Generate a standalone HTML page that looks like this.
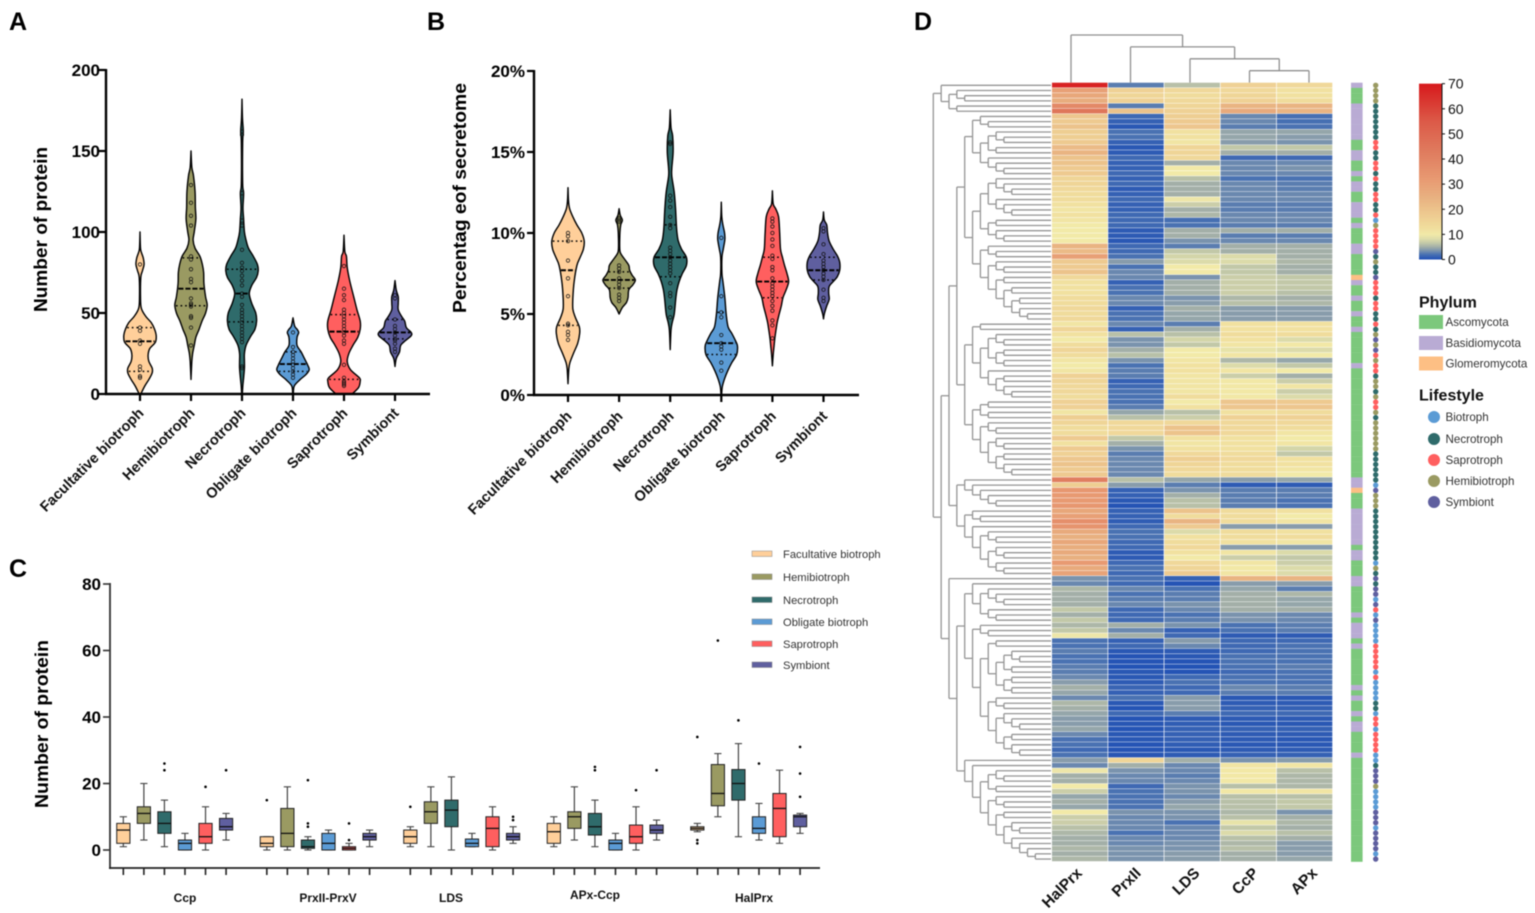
<!DOCTYPE html>
<html lang="en">
<head>
<meta charset="utf-8">
<title>Peroxidase protein distribution by fungal lifestyle</title>
<style>
html,body{margin:0;padding:0;background:#fff;}
svg{display:block;filter:blur(.4px);font-family:"Liberation Sans",Arial,sans-serif;}
.letter{font-size:25px;font-weight:700;fill:#000;}
.title{font-size:18px;font-weight:700;fill:#000;}
.tick{font-size:17px;font-weight:700;fill:#000;}
.cat{font-size:14.6px;font-weight:700;fill:#111;}
.grp{font-size:12px;font-weight:700;fill:#111;}
.leg{font-size:11.2px;fill:#333;}
.heatlab{font-size:15.5px;font-weight:700;fill:#111;}
.cbar{font-size:14px;fill:#111;}
.dlegtitle{font-size:16px;font-weight:700;fill:#111;}
.dleg{font-size:11.6px;font-weight:400;fill:#333;}
</style>
</head>
<body>
<svg id="figure" xmlns="http://www.w3.org/2000/svg" width="1535" height="913" viewBox="0 0 1535 913">
  <defs><linearGradient id="cbarGrad" x1="0" y1="1" x2="0" y2="0"></linearGradient></defs>
  <rect x="0" y="0" width="1535" height="913" fill="#fff"/>

  <text class="letter" x="9" y="30">A</text>
  <text class="letter" x="427" y="30">B</text>
  <text class="letter" x="9" y="577">C</text>
  <text class="letter" x="914" y="30">D</text>

  <g id="panelA">
    <text class="title" transform="translate(47 229.5) rotate(-90)" text-anchor="middle" textLength="165" lengthAdjust="spacingAndGlyphs">Number of protein</text>
  </g>
  <g id="panelB">
    <text class="title" transform="translate(466 198) rotate(-90)" text-anchor="middle" textLength="230" lengthAdjust="spacingAndGlyphs">Percentag eof secretome</text>
  </g>
  <g id="panelC">
    <text class="title" transform="translate(48 724) rotate(-90)" text-anchor="middle" textLength="168" lengthAdjust="spacingAndGlyphs">Number of protein</text>
    <text class="grp" x="185" y="902" text-anchor="middle">Ccp</text>
    <text class="grp" x="328" y="902" text-anchor="middle">PrxII-PrxV</text>
    <text class="grp" x="451" y="902" text-anchor="middle">LDS</text>
    <text class="grp" x="595" y="899" text-anchor="middle">APx-Ccp</text>
    <text class="grp" x="754" y="902" text-anchor="middle">HalPrx</text>
  </g>
  <g id="panelD"></g>
</svg>

<script>
/* ---------- shared categories ---------- */
const categories = ["Facultative biotroph", "Hemibiotroph", "Necrotroph", "Obligate biotroph", "Saprotroph", "Symbiont"];
const categoryColors = ["#FFCF9A", "#9A9A62", "#2F6B6B", "#5B9BD5", "#FF5F5F", "#5F5F9F"];

/* ---------- panel A data ---------- */
const panelATicks = [0, 50, 100, 150, 200];
const panelAProfileValues = [
  [100, 90, 87, 84, 80, 76, 72, 60, 53, 48, 44, 40, 36, 32, 28, 24, 20, 16, 13, 9, 5, 0],
  [150, 140, 135, 125, 115, 108, 100, 95, 90, 85, 80, 75, 68, 60, 55, 50, 45, 40, 35, 30, 25, 20, 9],
  [182, 170, 162, 155, 130, 124, 115, 108, 100, 95, 90, 85, 80, 76, 72, 67, 62, 56, 50, 45, 40, 35, 30, 25, 20, 16, 10, 5, 0],
  [47, 42, 40, 38, 35, 30, 26, 22, 18, 15, 12, 9, 5, 0],
  [98, 88, 85, 78, 70, 60, 52, 45, 40, 35, 30, 25, 20, 15, 10, 8, 4, 0],
  [70, 64, 60, 56, 52, 48, 45, 41, 38, 36, 33, 30, 26, 22, 17]
];
const panelADensity = [
  [0, .03, .1, .2, .25, .15, .05, .03, .08, .35, .7, .9, 1, .95, .6, .5, .55, .75, .75, .55, .3, .05],
  [0, .05, .15, .25, .27, .3, .2, .13, .25, .55, .7, .78, .8, .9, 1, .9, .68, .5, .3, .2, .1, .05, 0],
  [0, .03, .08, .04, .04, .1, .06, .1, .15, .25, .4, .7, .95, 1, .9, .6, .45, .6, .85, .9, .8, .5, .25, .15, .15, .15, .1, .05, .02],
  [0, .1, .25, .35, .25, .25, .5, .7, .9, 1, .8, .45, .08, .02],
  [0, .05, .15, .2, .35, .6, .8, 1, 1, .85, .55, .3, .2, .4, .95, 1, .9, .5],
  [0, .08, .2, .2, .2, .4, .6, .7, 1, 1, .65, .35, .28, .08, 0]
];
const panelAPoints = [
  [80, 41, 39, 33, 31, 17, 15, 11, 10],
  [129, 118, 110, 104, 85, 83, 77, 71, 69, 59, 56, 55, 54, 48, 47, 41, 30],
  [162, 160, 124, 107, 104, 89, 81, 78, 76, 73, 70, 67, 62, 60, 55, 52, 50, 48, 46, 44, 42, 40, 38, 36, 34, 32, 17, 16],
  [38, 29, 26, 24, 22, 20, 18, 16, 14, 12, 10],
  [79, 65, 61, 58, 52, 50, 48, 46, 44, 42, 40, 38, 36, 33, 31, 18, 10, 8, 7, 6, 5],
  [61, 59, 46, 42, 40, 38, 36, 34, 33, 31, 28, 26]
];
const panelAQ1 = [14, 54.5, 44.5, 14, 9, 34];
const panelAMedian = [32.5, 65, 62, 18.5, 38.5, 38];
const panelAQ3 = [41, 84, 77, 26, 49, 46];

/* ---------- panel B data ---------- */
const panelBTicks = [0, 5, 10, 15, 20];
const panelBProfileValues = [
  [12.8, 12, 11.5, 11, 10.5, 10, 9.5, 9, 8.5, 8, 7, 6, 5.3, 4.8, 4.2, 3.8, 3.2, 2.6, 2, 1.6, .7],
  [11.5, 11.1, 10.8, 10.5, 10, 9, 8.7, 8.3, 8, 7.7, 7.4, 7.1, 6.8, 6.5, 6, 5.7, 5.4, 5],
  [17.6, 16.5, 16, 15, 14, 13.5, 12.5, 11.5, 10.5, 10, 9.5, 9, 8.5, 8, 7.5, 7, 6.5, 6, 5, 4.5, 4, 2.8],
  [11.9, 11, 10.5, 10, 9.6, 9, 8.5, 7.5, 7, 6, 5, 4.2, 3.8, 3.3, 3, 2.5, 2, 1.5, 1, .5, 0],
  [12.6, 11.8, 11.5, 11, 10, 9, 8.5, 8, 7.5, 7, 6.5, 6, 5.5, 5, 4.5, 4, 3.5, 3, 2.5, 1.8],
  [11.3, 10.8, 10.5, 10, 9.5, 9, 8.6, 8.2, 7.7, 7.3, 7, 6.7, 6.3, 5.9, 5.5, 5, 4.7]
];
const panelBDensity = [
  [0, .03, .1, .3, .55, .85, 1, .95, .75, .55, .38, .3, .3, .45, .7, .72, .6, .35, .12, .05, 0],
  [0, .07, .2, .1, .05, .04, .12, .4, .6, .65, .8, 1, .85, .6, .55, .45, .2, 0],
  [0, .05, .15, .18, .1, .1, .25, .33, .38, .42, .5, .7, 1, 1, .75, .55, .42, .35, .25, .13, .05, 0],
  [0, .03, .1, .2, .22, .12, .04, .04, .1, .22, .3, .42, .65, .9, 1, .95, .65, .4, .2, .06, .02],
  [0, .05, .2, .38, .45, .5, .62, .75, .9, 1, .85, .65, .55, .42, .3, .22, .15, .1, .05, 0],
  [0, .05, .2, .25, .35, .6, .85, 1, 1, .85, .6, .35, .32, .35, .2, .05, 0]
];
const panelBPoints = [
  [10, 9.8, 9.5, 8.3, 7.2, 6.1, 4.4, 4.3, 3.9, 3.7, 3.4],
  [10.9, 10.8, 10.7, 8, 7.8, 7.6, 7.2, 7, 6.8, 6.6, 6.2, 6, 5.8],
  [15.6, 15.5, 12.3, 12, 11.6, 11, 10.5, 10.3, 9.1, 8.9, 8.7, 8.5, 8.3, 8.1, 7.9, 7.7, 7.5, 6.9, 6.3, 6.1, 5.4, 4.8],
  [9.7, 6.1, 5.1, 4.8, 3.7, 3.2, 3, 2.8, 2, 1.5],
  [10.9, 10.7, 10.4, 10, 9.6, 9.2, 8.6, 8.4, 7.9, 7.7, 7.2, 6.9, 6.7, 6.5, 6.3, 6.1, 5.8, 5.5, 5.2, 4.6, 4.3, 3.5],
  [10.3, 10.1, 9.3, 8.7, 8.3, 8.1, 7.9, 7.7, 7.5, 7.3, 7.1, 6.5, 6, 5.8]
];
const panelBQ1 = [4.3, 6.6, 7.3, 2.5, 6, 7.1];
const panelBMedian = [7.7, 7.1, 8.5, 3.2, 7, 7.7];
const panelBQ3 = [9.5, 7.6, 10.5, 5.1, 8.5, 8.5];

/* ---------- panel C data: [group][category] ---------- */
const boxGroups = ["Ccp", "PrxII-PrxV", "LDS", "APx-Ccp", "HalPrx"];
const panelCTicks = [0, 20, 40, 60, 80];
const boxLow = [
  [1, 3, 1, 0, 0, 3],
  [0, 0, 0, 0, 0, 1],
  [1, 1, 0, 1, 0, 2],
  [1, 3, 1, 0, 0, 3],
  [5.5, 10, 4, 3, 2, 5]
];
const boxQ1 = [
  [2, 8, 5, 0, 2, 6],
  [1, 1, .5, 0, 0, 3],
  [2, 8, 7, 1, 1, 3],
  [2, 6.5, 4.5, 0, 2, 5],
  [6, 13.3, 15, 5, 4, 7]
];
const boxMedian = [
  [6, 11, 8, 2, 4, 7],
  [2, 5, 1, 2, .5, 4],
  [4, 11.5, 12, 2, 6.5, 4],
  [5.5, 10, 7, 2, 4, 6],
  [6.5, 17, 20, 6.5, 12.5, 10]
];
const boxQ3 = [
  [8, 13, 11.5, 3, 8, 9.5],
  [4, 12.5, 3, 5, 1, 5],
  [6, 14.5, 15, 3.3, 10, 5],
  [8, 11.5, 11, 3, 7.5, 7.5],
  [7, 25.7, 24.2, 10, 17, 10.5]
];
const boxHigh = [
  [10, 20, 15, 5, 13, 11],
  [4, 19, 4, 6, 2, 6],
  [7, 19, 22, 5, 13, 7],
  [10, 19, 15, 5, 13, 9],
  [8, 29, 32, 14, 24, 11]
];
const boxOutliers = [
  [[], [], [24, 26], [], [19], [24]],
  [[15], [], [7, 8, 21], [], [3, 8], []],
  [[13], [], [], [], [], [9, 10]],
  [[], [], [24, 25], [], [18], [24]],
  [[2, 3, 34], [63], [39], [26], [], [16, 23, 31]]
];

/* ---------- panel D data ---------- */
const heatColumns = ["HalPrx", "PrxII", "LDS", "CcP", "APx"];
const heatValues = [
  [68,2.5,6,16,14],[30,16,14,14,12],[28,15,13,15,12],[26,16,14,16,13],[38,2.5,15,24,24],
  [45,20,16,27,24],[19,1.5,17,3,1.8],[18,1,18,3,1.8],[20,.5,19,2.5,2],[17,2,12,4.5,4.5],
  [17,2,12,4.5,4],[18,1,11,4,3.5],[22,.5,15,6.5,6.5],[24,.7,15,5,5],[20,1.5,14,1.5,1.5],
  [20,1,5,3,3],[18,1,10,3,3.5],[18,1.5,10,3,3],[15,1,6,2,2],[15,1.5,5,3,2.5],
  [14,.7,5,3,2.5],[13,1,5,3,3],[13,1.5,9.5,3,3],[12,1,7,2.5,2.5],[11,1,5,2.5,2.5],
  [12,1.5,5.5,3,3],[11,1.5,1.8,3,3],[10,1.5,2,2.5,2.5],[10,.7,5,5,5],[10,.7,5,2.5,2.5],
  [10,.5,3.5,3,3],[24,1.5,2.5,5,5],[22,1.5,6.5,5,5],[30,2,7.5,8,5],[18,4,8,8,5.5],
  [18,2,10,6.5,5],[20,3,10,6.5,5],[14,3,3.5,7,6.5],[12,1,5,7,6.5],[12,2,5,7,6.5],
  [12,2,5,7,6],[13,3,3.5,5.5,5],[13,3,4,6,5.5],[14,1,5,4,4],[13,2,4.5,4,4],
  [14,2,4.5,4,4],[11,3,2.5,12,12],[15,1,5,12,12],[12,6,6,13,13],[10,3.5,7.5,12,8],
  [13,3.5,6.5,11,10.5],[15,5,10,9,8],[13,6,10,11,10],[11,3.5,11,5.5,4.5],[10,2,12,8,6.5],
  [11,2.5,12,11,10],[16,2.5,11,7,5],[15,1,11,10.5,7],[14,1.5,11,10.5,11],[14,2,11,10.5,7],
  [13,2,13,10.5,8],[16,2,10,19,18],[16,2.5,12,19,19],[11,4.5,6,12,13],[17,6,7,16,16],
  [15,14,14,14,14],[13,14,20,14,13],[13,14,20,14,11],[18,6.5,12,12,10],[12,5,11,12,11],
  [18,3.5,12,12,7.5],[16,2.5,14,13,6.5],[19,3,17,14,12],[20,3,15,13,12],[18,3,14,13,11],
  [18,3,13,13,10],[42,6,4.5,4,4.5],[17,4,2.5,.7,.7],[33,1,3.5,2.5,2.5],[32,1,5,2.5,2.5],
  [32,.5,6,2.5,2],[33,.3,6,2.5,2],[28,1,20,13,12],[30,1,13,13,10],[36,.8,24,13,11],
  [34,1.5,18,4,4],[27,2,8,13,12],[25,2,12,13,13],[28,1.5,13,12,11],[26,1.5,14,4,4],
  [27,.7,12,11,8],[25,.7,10,7,6.5],[32,1.5,14,11,7],[27,2,15,10.5,8],[29,1.5,18,11,8],
  [3.5,2,1,24,24],[3,1.5,.3,4,4],[5.5,3,2,4.5,2.5],[5,2,2.5,5,5.5],[5,2.5,2.5,5,4.5],
  [5,3,3.5,5,4.5],[6.5,1.5,3,5,5],[5,1.5,2,3.5,3],[6.5,1.5,2.5,3.5,3],[5.5,5,3.5,2,2.5],
  [6.5,3,1,2,2.5],[9.5,5,1.5,.7,.7],[2,1,4,1.5,1.5],[2,1.5,3,1.5,2],[2.5,.5,.7,1.5,2],
  [2,.3,.5,2,2],[2,.3,.3,2,2],[2.5,.2,.2,2,2.5],[2.5,.5,.3,1.5,2],[3,.5,1.5,2,2],
  [4,.7,2,2,2],[5,1.2,1.5,3,2.5],[4.5,1,1.5,2.5,2.5],[3,2,4,.5,.5],[5.5,.5,4,.7,.7],
  [5,.3,4,1,1],[4.5,1.5,2.5,1.5,1.5],[4,.3,.7,.7,.7],[4,.4,.8,.5,.5],[4.5,.3,1,1,1],
  [3,.5,1,.7,.7],[2,.5,1,.7,.5],[2,.3,.8,.5,.5],[1.5,.3,.5,.7,.7],[2,.4,.7,1,1],
  [4,15,5,3.5,4],[3,5,3,11,11],[9.5,3.5,3,10.5,6],[5,3,2.5,10.5,5.5],[5,3,3,10.5,5.5],
  [10,1.5,3.5,6,5.5],[7,2,3.5,10.5,11],[4.5,2,3,6,6],[5,2,4,6,6.5],[4.5,2,4.5,6,6.5],
  [10,3.5,3.5,5.5,3.5],[7,3,3.5,6,5],[7,3,2,9,5.5],[6,3,3,6.5,5],[5.5,2,3,8,6],
  [5,3,3,6,5],[5,3,3.5,5.5,4],[5.5,3.5,3.5,6,4],[5,3.5,4,5,4],[5.5,3.5,4,5,4.5]
];
const heatStopValues = [0, 2, 3.5, 5, 6.5, 8, 10, 13, 18, 25, 32, 42, 55, 70];
const heatStopColors = ["#1f4fb5", "#4a72b2", "#7a93ad", "#a3afa8", "#c2c8a8", "#dcdbaa", "#f2eaa8", "#f0dc9c", "#eeca90", "#e8b080", "#e89a72", "#e07e60", "#dc5a48", "#d7191c"];
const colorbarTicks = [0, 10, 20, 30, 40, 50, 60, 70];
const phylumNames = ["Ascomycota", "Basidiomycota", "Glomeromycota"];
const phylumColors = ["#7CC87C", "#B9ABD4", "#FDBF84"];
const phylumKeys = "ABG";
const phylumCodes = ["B","AAA","BBBBBBB","AA","BB","AA","B","A","BB","AA","BBB","A","B","AAA","BB","AAAA","G","B","AA","B","AA","B","AA","B","AAAAAA","B","AAAAAAAAAAAAAAAAAAAAA","BB","G","AAA","BBBBBBB","A","BB","AAA","BB","AAAAA","B","A","BBB","A","B","AAAAAAA","B","A","B","AA","B","A","BB","AAAA","B","AAAAAAAAAAAAAAAAAAAA"].join("");
const lifestyleNames = ["Biotroph", "Necrotroph", "Saprotroph", "Hemibiotroph", "Symbiont"];
const lifestyleColors = ["#5B9BD5", "#2F6B6B", "#FF5F5F", "#9A9A62", "#5F5F9F"];
const lifestyleKeys = "BNSHY";
const lifestyleCodes = ["HHHHNNNNNN","NSSNNSSNSN","NSSNNSBHSS","SSYNHNNYSS","SNSSNNSNHY","HYSHSSNHHN","HSSHNHHHHH","HNNNNNNBYH","HHNNNNNNNN","NNBHNYNYYB","YSBYBBBBSS","SSSBSBBBBN","NBSSBSSSSB","BNYYYHBBBB","YYYBYYYYBY"].join("");
const rowTree = [
  [0,[[0,[0,0]],[0,0]]],
  [
    [
      [
        [
          [[0,[0,0]],[[[0,[0,0]],[0,0]],[0,[0,[0,0]]]]],
          [
            [[[0,[0,[0,0]]],[0,[0,[0,0]]]],[[0,0],[0,[0,0]]]],
            [[0,[0,0]],[[0,[0,0]],[[0,0],[[0,0],[[0,0],[0,[0,0]]]]]]]
          ]
        ],
        [
          [[0,0],[[[0,[0,0]],[[0,0],[0,0]]],[0,[[0,0],[0,[0,0]]]]]],
          [[[0,0],[0,0]],[[0,[0,0]],[[0,[0,0]],[[0,0],[0,[0,0]]]]]]
        ]
      ],
      [[0,[0,[0,[0,[0,0]]]]],[[0,[0,0]],[0,[[0,[0,0]],[[0,[0,0]],[0,[0,0]]]]]]]
    ],
    [0,[
      [
        [0,[[0,[0,[0,0]]],[0,[0,0]]]],
        [[0,[0,0]],[[[0,0],[[[0,[0,0]],[0,0]],[[0,0],[0,0]]]],[[0,[0,0]],[[0,[0,[0,0]]],[[0,0],[0,[0,0]]]]]]]
      ],
      [0,[0,[[[0,[0,0]],[0,0]],[[0,[0,0]],[[0,0],[[0,[0,0]],[0,[0,[0,[0,0]]]]]]]]]]
    ]]
  ]
];
const columnTree = [0,[0,[0,[0,0]]]];

/* ---------- axis functions ---------- */
function xA(i) { return 140 + i * 51; }
function yA(v) { return 394 - v * 1.62; }
function xB(i) { return 568 + i * 51.1; }
function yB(v) { return 395 - v * 16.2; }
function xC(g, c) { return 174.7 + 143.5 * g + (c - 2.5) * 20.55; }
function yC(v) { return 850 - v * 3.325; }
function rowY(i) { return 82.7 + 5.193 * i; }
function colX(i) { return 1052 + 56.2 * i; }
function dendroX(depth) { return 933.3 + 7.85 * depth; }
function colDendroX(i) { return 1071 + 59.5 * i; }
function colDendroY(depth) { return 35 + 11.9 * depth; }
function cbarY(v) { return 259.5 - v * 2.512; }

/* ---------- helpers ---------- */
const NS = "http://www.w3.org/2000/svg";
function make(parent, tag, attrs, text) {
  const el = document.createElementNS(NS, tag);
  for (const k in attrs) el.setAttribute(k, attrs[k]);
  if (text !== undefined) el.textContent = text;
  parent.appendChild(el);
  return el;
}
function hexMix(a, b, t) {
  const pa = [1, 3, 5].map(i => parseInt(a.substr(i, 2), 16));
  const pb = [1, 3, 5].map(i => parseInt(b.substr(i, 2), 16));
  return "rgb(" + pa.map((c, i) => Math.round(c + (pb[i] - c) * t)).join(",") + ")";
}
function heatColor(v) {
  for (let i = 1; i < heatStopValues.length; i++) {
    if (v <= heatStopValues[i]) {
      const t = (v - heatStopValues[i - 1]) / (heatStopValues[i] - heatStopValues[i - 1]);
      return hexMix(heatStopColors[i - 1], heatStopColors[i], Math.max(0, t));
    }
  }
  return heatStopColors[heatStopColors.length - 1];
}
function splinePath(pts, move) {
  let d = move ? "M" + pts[0][0].toFixed(2) + " " + pts[0][1].toFixed(2) : "L" + pts[0][0].toFixed(2) + " " + pts[0][1].toFixed(2);
  for (let i = 0; i < pts.length - 1; i++) {
    const p0 = pts[Math.max(0, i - 1)], p1 = pts[i], p2 = pts[i + 1], p3 = pts[Math.min(pts.length - 1, i + 2)];
    const c1 = [p1[0] + (p2[0] - p0[0]) / 6, p1[1] + (p2[1] - p0[1]) / 6];
    const c2 = [p2[0] - (p3[0] - p1[0]) / 6, p2[1] - (p3[1] - p1[1]) / 6];
    d += "C" + c1[0].toFixed(2) + " " + c1[1].toFixed(2) + " " + c2[0].toFixed(2) + " " + c2[1].toFixed(2) + " " + p2[0].toFixed(2) + " " + p2[1].toFixed(2);
  }
  return d;
}
function densityAt(values, density, v) {
  for (let i = 1; i < values.length; i++) {
    if (v >= values[i]) {
      const t = (values[i - 1] - v) / (values[i - 1] - values[i]);
      return density[i - 1] + (density[i] - density[i - 1]) * t;
    }
  }
  return 0;
}

/* ---------- violin panels ---------- */
function drawViolinPanel(rootId, prefix, xf, yf, axisX, axisEnd, tickList, tickFmt, labelGap, catDx, catDy, profileValues, profileDensity, points, q1, med, q3) {
  const root = document.getElementById(rootId);
  const halfMax = 16.2;
  categories.forEach(function (name, i) {
    const cx = xf(i);
    const right = profileValues[i].map((v, k) => [cx + profileDensity[i][k] * halfMax, yf(v)]);
    const left = profileValues[i].map((v, k) => [cx - profileDensity[i][k] * halfMax, yf(v)]).reverse();
    const shape = make(root, "path", { d: splinePath(right, true) + splinePath(left, false) + "Z", fill: categoryColors[i], stroke: "#000", "stroke-width": 1.4, "stroke-linejoin": "round" });
    
    
    points[i].forEach(function (v) {
      const pt = make(root, "circle", { cx: cx, cy: yf(v), r: 1.7, fill: "none", stroke: "#111", "stroke-width": .75 });
      
      
    });
    [[q1[i], "1.6 3", 1.5, "quartile-low"], [med[i], "5 2", 1.9, "median"], [q3[i], "1.6 3", 1.5, "quartile-high"]].forEach(function (q) {
      const w = densityAt(profileValues[i], profileDensity[i], q[0]) * halfMax;
      const ln = make(root, "line", { x1: cx - w + 1, x2: cx + w - 1, y1: yf(q[0]), y2: yf(q[0]), stroke: "#000", "stroke-width": q[2], "stroke-dasharray": q[1] });
      
      
    });
  });
  const y0 = yf(0);
  const yAxis = make(root, "line", { x1: axisX, x2: axisX, y1: yf(tickList[tickList.length - 1]) - 1, y2: y0 + 1, stroke: "#000", "stroke-width": 2.4 });
  
  
  const xAxis = make(root, "line", { x1: axisX - 1, x2: axisEnd, y1: y0, y2: y0, stroke: "#000", "stroke-width": 2.4 });
  
  
  tickList.forEach(function (t) {
    const tk = make(root, "line", { x1: axisX - 7, x2: axisX, y1: yf(t), y2: yf(t), stroke: "#000", "stroke-width": 2.2 });
    
    
    const lb = make(root, "text", { class: "tick", x: axisX - labelGap, y: yf(t) + 6, "text-anchor": "end" }, tickFmt(t));
    
    
  });
  categories.forEach(function (name, i) {
    const cx = xf(i);
    const tk = make(root, "line", { x1: cx, x2: cx, y1: y0, y2: y0 + 7, stroke: "#000", "stroke-width": 2.2 });
    
    
    const lx = cx + catDx, ly = y0 + catDy;
    const lb = make(root, "text", { class: "cat", x: lx, y: ly, "text-anchor": "end", transform: "rotate(-45 " + lx + " " + ly + ")" }, name);
    
    
  });
}
drawViolinPanel("panelA", "a", xA, yA, 106, 430, panelATicks, t => String(t), 6, 4.5, 20, panelAProfileValues, panelADensity, panelAPoints, panelAQ1, panelAMedian, panelAQ3);
drawViolinPanel("panelB", "b", xB, yB, 534, 859, panelBTicks, t => t + "%", 9, 4.5, 22, panelBProfileValues, panelBDensity, panelBPoints, panelBQ1, panelBMedian, panelBQ3);

/* ---------- box panel ---------- */
(function () {
  const root = document.getElementById("panelC");
  const halfBox = 6.6, halfCap = 3.6, base = 868;
  boxGroups.forEach(function (g, gi) {
    categories.forEach(function (name, ci) {
      const cx = xC(gi, ci);
      const color = categoryColors[ci];
      const stem = make(root, "line", { x1: cx, x2: cx, y1: yC(boxHigh[gi][ci]), y2: yC(boxLow[gi][ci]), stroke: "#444", "stroke-width": 1.2 });
      
      
      const capHigh = make(root, "line", { x1: cx - halfCap, x2: cx + halfCap, y1: yC(boxHigh[gi][ci]), y2: yC(boxHigh[gi][ci]), stroke: "#444", "stroke-width": 1.1 });
      
      
      const capLow = make(root, "line", { x1: cx - halfCap, x2: cx + halfCap, y1: yC(boxLow[gi][ci]), y2: yC(boxLow[gi][ci]), stroke: "#444", "stroke-width": 1.1 });
      
      
      const box = make(root, "rect", { x: cx - halfBox, width: halfBox * 2, y: yC(boxQ3[gi][ci]), height: yC(boxQ1[gi][ci]) - yC(boxQ3[gi][ci]), fill: color, stroke: "#222", "stroke-width": 1 });
      
      
      const medLine = make(root, "line", { x1: cx - halfBox, x2: cx + halfBox, y1: yC(boxMedian[gi][ci]), y2: yC(boxMedian[gi][ci]), stroke: "#111", "stroke-width": 1.3 });
      
      
      boxOutliers[gi][ci].forEach(function (v) {
        const o = make(root, "circle", { cx: cx, cy: yC(v), r: 1.3, fill: "#000" });
        
        
      });
      const tk = make(root, "line", { x1: cx, x2: cx, y1: base, y2: base + 7, stroke: "#222", "stroke-width": 1.6 });
      
      
    });
  });
  const yAxis = make(root, "line", { x1: 110, x2: 110, y1: yC(80) - 1, y2: base + 1, stroke: "#333", "stroke-width": 1.8 });
  
  
  const xAxis = make(root, "line", { x1: 109, x2: 820, y1: base, y2: base, stroke: "#222", "stroke-width": 1.8 });
  
  
  panelCTicks.forEach(function (t) {
    const tk = make(root, "line", { x1: 103, x2: 110, y1: yC(t), y2: yC(t), stroke: "#333", "stroke-width": 1.6 });
    
    
    const lb = make(root, "text", { class: "tick", x: 101, y: yC(t) + 6, "text-anchor": "end" }, String(t));
    
    
  });
  const legendRowY = [554, 577, 600, 622, 644, 665];
  categories.forEach(function (name, i) {
    const sw = make(root, "rect", { x: 752, y: legendRowY[i] - 3, width: 20, height: 5.5, fill: categoryColors[i], stroke: "#888", "stroke-width": .5 });
    
    
    const lb = make(root, "text", { class: "leg", x: 783, y: legendRowY[i] + 4 }, name);
    
    
  });
})();

/* ---------- heatmap panel ---------- */
(function () {
  const root = document.getElementById("panelD");
  const lines = make(root, "g", { stroke: "#959595", "stroke-width": 1.3, fill: "none" });
  
  
  let leaf = 0;
  function layoutRows(node, depth) {
    if (node === 0) {
      const y = rowY(leaf) + 2.6;
      leaf += 1;
      return { y: y, leaf: true };
    }
    const a = layoutRows(node[0], depth + 1);
    const b = layoutRows(node[1], depth + 1);
    const x = dendroX(depth);
    const v = make(lines, "line", { x1: x, x2: x, y1: a.y, y2: b.y });
    
    
    [a, b].forEach(function (c) {
      const h = make(lines, "line", { x1: x, x2: c.leaf ? 1051 : dendroX(depth + 1), y1: c.y, y2: c.y });
      
      
    });
    return { y: (a.y + b.y) / 2, leaf: false };
  }
  layoutRows(rowTree, 0);

  const topLines = make(root, "g", { stroke: "#8f8f8f", "stroke-width": 1.3, fill: "none" });
  
  
  let colLeaf = 0;
  function layoutCols(node, depth) {
    if (node === 0) {
      const x = colDendroX(colLeaf);
      colLeaf += 1;
      return { x: x, y: 82.7 };
    }
    const a = layoutCols(node[0], depth + 1);
    const b = layoutCols(node[1], depth + 1);
    const y = colDendroY(depth);
    const h = make(topLines, "line", { x1: a.x, x2: b.x, y1: y, y2: y });
    
    
    [a, b].forEach(function (c) {
      const v = make(topLines, "line", { x1: c.x, x2: c.x, y1: y, y2: c.y });
      
      
    });
    return { x: (a.x + b.x) / 2, y: y };
  }
  layoutCols(columnTree, 0);

  const cells = make(root, "g", {});
  
  
  heatValues.forEach(function (row, r) {
    row.forEach(function (v, c) {
      const cell = make(cells, "rect", { x: colX(c), y: rowY(r), width: 55.5, height: 4.75, fill: heatColor(v) });
      
      
    });
  });
  heatColumns.forEach(function (name, c) {
    const lx = 1083 + 58.8 * c, ly = 874;
    const lb = make(root, "text", { class: "heatlab", x: lx, y: ly, "text-anchor": "end", transform: "rotate(-45 " + lx + " " + ly + ")" }, name);
    
    
  });

  phylumCodes.split("").forEach(function (code, r) {
    const s = make(root, "rect", { x: 1351, y: rowY(r), width: 11.6, height: 5.35, fill: phylumColors[phylumKeys.indexOf(code)] });
    
    
  });
  lifestyleCodes.split("").forEach(function (code, r) {
    const d = make(root, "circle", { cx: 1375.7, cy: rowY(r) + 2.6, r: 2.7, fill: lifestyleColors[lifestyleKeys.indexOf(code)] });
    
    
  });

  const grad = document.getElementById("cbarGrad");
  heatStopValues.forEach(function (v, i) {
    const st = make(grad, "stop", { offset: (v / 70), "stop-color": heatStopColors[i] });
    
    
  });
  const bar = make(root, "rect", { x: 1419, y: cbarY(70), width: 23, height: cbarY(0) - cbarY(70), fill: "url(#cbarGrad)" });
  
  
  const barAxis = make(root, "line", { x1: 1442, x2: 1442, y1: cbarY(70), y2: cbarY(0), stroke: "#111", "stroke-width": 1 });
  
  
  colorbarTicks.forEach(function (t) {
    const tk = make(root, "line", { x1: 1442, x2: 1445, y1: cbarY(t), y2: cbarY(t), stroke: "#111", "stroke-width": 1 });
    
    
    const lb = make(root, "text", { class: "cbar", x: 1448, y: cbarY(t) + 5 }, String(t));
    
    
  });

  const phylumTitle = make(root, "text", { class: "dlegtitle", x: 1419, y: 307.5 }, "Phylum");
  
  
  const phylumRowY = [322, 343, 363.5];
  phylumNames.forEach(function (name, i) {
    const sw = make(root, "rect", { x: 1419, y: phylumRowY[i] - 7, width: 24, height: 14, fill: phylumColors[i] });
    
    
    const lb = make(root, "text", { class: "dleg", x: 1445.5, y: phylumRowY[i] + 4 }, name);
    
    
  });
  const lifeTitle = make(root, "text", { class: "dlegtitle", x: 1419, y: 400.5 }, "Lifestyle");
  
  
  const lifeRowY = [417, 439, 460, 481, 502];
  lifestyleNames.forEach(function (name, i) {
    const c = make(root, "circle", { cx: 1434, cy: lifeRowY[i], r: 6, fill: lifestyleColors[i] });
    
    
    const lb = make(root, "text", { class: "dleg", x: 1445.5, y: lifeRowY[i] + 4 }, name);
    
    
  });
})();
</script>
</body>
</html>
